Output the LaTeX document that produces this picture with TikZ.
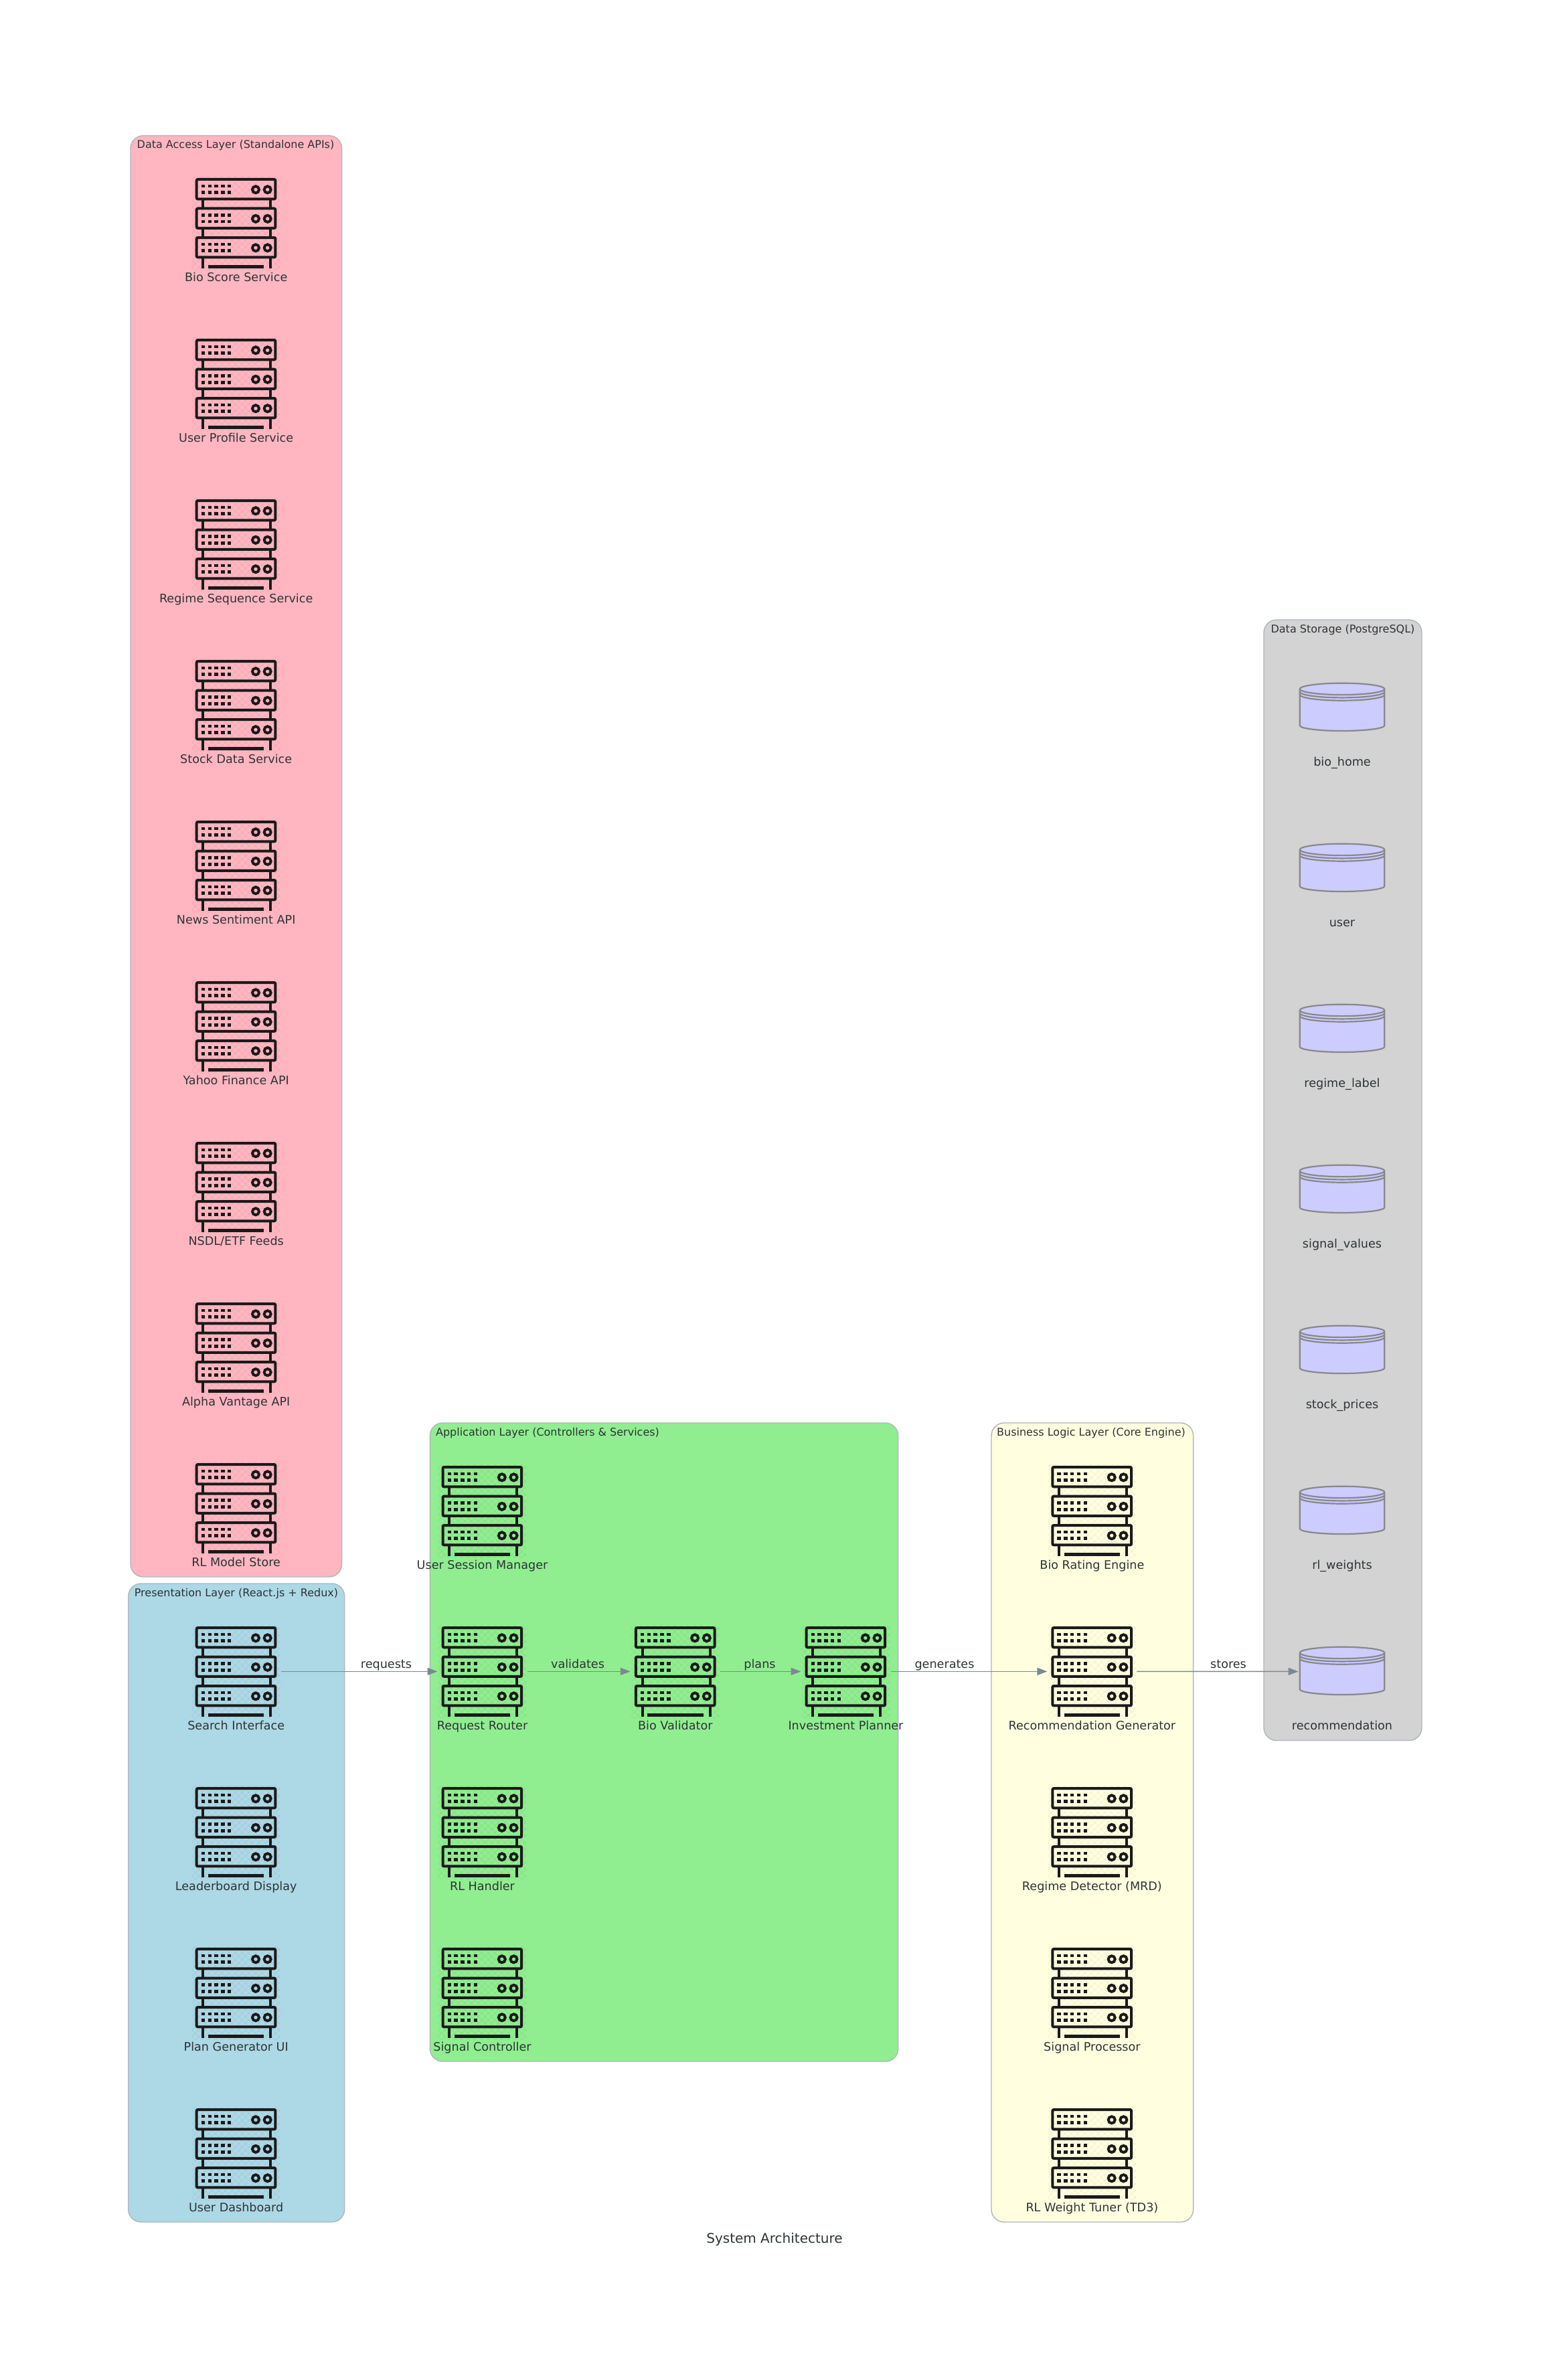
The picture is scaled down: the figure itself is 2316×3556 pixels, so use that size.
\documentclass[tikz,border=0pt]{standalone}
\usepackage{fontspec}
\setmainfont{DejaVu Sans}
\usetikzlibrary{arrows.meta}
\definecolor{txt}{HTML}{2D3436}
\definecolor{edgec}{HTML}{7B8894}
\definecolor{clusterc}{HTML}{AEB6BE}
\definecolor{iconc}{HTML}{1A1A1A}
\definecolor{dbfill}{HTML}{CCCCFF}
\definecolor{dbline}{HTML}{888888}
\definecolor{cpink}{HTML}{FFB6C1}
\definecolor{cblue}{HTML}{ADD8E6}
\definecolor{cgreen}{HTML}{90EE90}
\definecolor{cyellow}{HTML}{FFFFE0}
\definecolor{cgray}{HTML}{D3D3D3}
\tikzset{
  cluster/.style={draw=clusterc,line width=1.4pt,rounded corners=19pt},
  ctitle/.style={anchor=base,inner sep=0pt,text=txt,font=\fontsize{16}{19}\selectfont},
  nlabel/.style={anchor=base,inner sep=0pt,text=txt,font=\fontsize{17.6}{21}\selectfont},
  graphtitle/.style={anchor=base,inner sep=0pt,text=txt,font=\fontsize{20}{24}\selectfont},
  srvnode/.style={minimum width=122pt,minimum height=134.7pt,inner sep=0pt,outer sep=6pt},
  dbnode/.style={minimum width=126.7pt,minimum height=73.3pt,inner sep=0pt,outer sep=2pt},
  edge/.style={draw=edgec,line width=1.5pt,-{Triangle[length=15pt,width=11pt,fill=edgec]}},
  iconline/.style={draw=iconc,line width=4pt},
  hatch/.style={draw=black,line width=.8pt,opacity=.05},
  dbdraw/.style={draw=dbline,line width=2.2pt,fill=dbfill},
  dbarc/.style={draw=dbline,line width=2.2pt}
}
\newcommand{\srv}[4]{% name, centre x, top y, label
  \node[srvnode] (#1) at (#2,#3+67.35) {};
  \begin{scope}[shift={(#2-61,#3)}]
    \begin{scope}
      \clip (-5,-2) rectangle (127,137);
      \foreach \h in {-140,-130,...,130}{
        \draw[hatch] (\h,-2) -- (\h+140,138);
        \draw[hatch] (\h,138) -- (\h+140,-2);
      }
    \end{scope}
    \foreach \t in {0,43.5,87}{
      \draw[iconline,rounded corners=2pt] (2,\t+2) rectangle (119.7,\t+31.4);
      \foreach \d in {11.7,21.5,31.3,41.2,51}{
        \fill[iconc] (\d-2.7,\t+9.7) rectangle (\d+2.7,\t+14.3);
        \fill[iconc] (\d-2.7,\t+19.4) rectangle (\d+2.7,\t+24);
      }
      \draw[line width=4pt,draw=iconc] (90.3,\t+17.3) circle (5pt);
      \draw[line width=4pt,draw=iconc] (108,\t+17.3) circle (5pt);
    }
    \draw[iconline] (11.7,33) -- (11.7,44) (112.7,33) -- (112.7,44);
    \draw[iconline] (11.7,76) -- (11.7,88) (112.7,76) -- (112.7,88);
    \draw[iconline] (11.7,120) -- (11.7,134.7) (112.7,120) -- (112.7,134.7);
    \fill[iconc] (19.3,130.4) rectangle (102.7,134.7);
  \end{scope}
  \node[nlabel] (#1-l) at (#2,#3+154) {#4};
}
\newcommand{\db}[4]{% name, centre x, top y, label
  \node[dbnode] (#1) at (#2,#3+36.65) {};
  \begin{scope}[shift={(#2,#3)}]
    \path[dbdraw] (-63.3,8.7) -- (-63.3,63.3)
      .. controls (-63.3,67.7) and (-35,71.3) .. (0,71.3)
      .. controls (35,71.3) and (63.3,67.7) .. (63.3,63.3)
      -- (63.3,8.7)
      .. controls (63.3,3.9) and (35,0) .. (0,0)
      .. controls (-35,0) and (-63.3,3.9) .. (-63.3,8.7) -- cycle;
    \foreach \s in {0,4.3,8.6}{
      \path[dbarc] (-63.3,8.7+\s)
        .. controls (-63.3,13.5+\s) and (-35,17.4+\s) .. (0,17.4+\s)
        .. controls (35,17.4+\s) and (63.3,13.5+\s) .. (63.3,8.7+\s);
    }
  \end{scope}
  \node[nlabel] (#1-l) at (#2,#3+124) {#4};
}
\begin{document}
\begin{tikzpicture}[x=1pt,y=-1pt]
\useasboundingbox (0,0) rectangle (2316,3556);
% clusters
\draw[cluster,fill=cpink] (195,202.7) rectangle (510.7,2356);
\node[ctitle] (tpink) at (352,221.7) {Data Access Layer (Standalone APIs)};
\draw[cluster,fill=cblue] (191.7,2366) rectangle (514.7,3320);
\node[ctitle] (tblue) at (353,2385) {Presentation Layer (React.js + Redux)};
\draw[cluster,fill=cgreen] (642.3,2126) rectangle (1341.7,3080);
\node[ctitle] (tgreen) at (818,2145) {Application Layer (Controllers \& Services)};
\draw[cluster,fill=cyellow] (1481,2126) rectangle (1782.6,3320);
\node[ctitle] (tyellow) at (1630,2145) {Business Logic Layer (Core Engine)};
\draw[cluster,fill=cgray] (1888,926) rectangle (2124,2600.5);
\node[ctitle] (tgray) at (2006,945) {Data Storage (PostgreSQL)};
% data access
\srv{bioscore}{352.7}{266}{Bio Score Service}
\srv{userprofile}{352.7}{506}{User Profile Service}
\srv{regimeseq}{352.7}{746}{Regime Sequence Service}
\srv{stockdata}{352.7}{986}{Stock Data Service}
\srv{news}{352.7}{1226}{News Sentiment API}
\srv{yahoo}{352.7}{1466}{Yahoo Finance API}
\srv{nsdl}{352.7}{1706}{NSDL/ETF Feeds}
\srv{alpha}{352.7}{1946}{Alpha Vantage API}
\srv{rlstore}{352.7}{2186}{RL Model Store}
% presentation
\srv{search}{352.7}{2430}{Search Interface}
\srv{leader}{352.7}{2670}{Leaderboard Display}
\srv{plangen}{352.7}{2910}{Plan Generator UI}
\srv{dashboard}{352.7}{3150}{User Dashboard}
% application
\srv{session}{720.5}{2190}{User Session Manager}
\srv{router}{720.5}{2430}{Request Router}
\srv{rlhandler}{720.5}{2670}{RL Handler}
\srv{sigctl}{720.5}{2910}{Signal Controller}
\srv{validator}{1008.8}{2430}{Bio Validator}
\srv{planner}{1263.5}{2430}{Investment Planner}
% business logic
\srv{biorating}{1631.4}{2190}{Bio Rating Engine}
\srv{recgen}{1631.4}{2430}{Recommendation Generator}
\srv{regimedet}{1631.4}{2670}{Regime Detector (MRD)}
\srv{sigproc}{1631.4}{2910}{Signal Processor}
\srv{tuner}{1631.4}{3150}{RL Weight Tuner (TD3)}
% storage
\db{dbbio}{2005}{1020.7}{bio\_home}
\db{dbuser}{2005}{1260.7}{user}
\db{dbregime}{2005}{1500.7}{regime\_label}
\db{dbsignal}{2005}{1740.7}{signal\_values}
\db{dbstock}{2005}{1980.7}{stock\_prices}
\db{dbrl}{2005}{2220.7}{rl\_weights}
\db{dbrec}{2005}{2460.7}{recommendation}
% connectors
\draw[edge] (search) -- (router);
\draw[edge] (router) -- (validator);
\draw[edge] (validator) -- (planner);
\draw[edge] (planner) -- (recgen);
\draw[edge] (recgen) -- (dbrec);
\node[nlabel] (e1) at (577,2492.5) {requests};
\node[nlabel] (e2) at (863,2492.5) {validates};
\node[nlabel] (e3) at (1135,2492.5) {plans};
\node[nlabel] (e4) at (1411,2492.5) {generates};
\node[nlabel] (e5) at (1835,2492.5) {stores};
\node[graphtitle] (title) at (1157,3351.7) {System Architecture};
\end{tikzpicture}
\end{document}
